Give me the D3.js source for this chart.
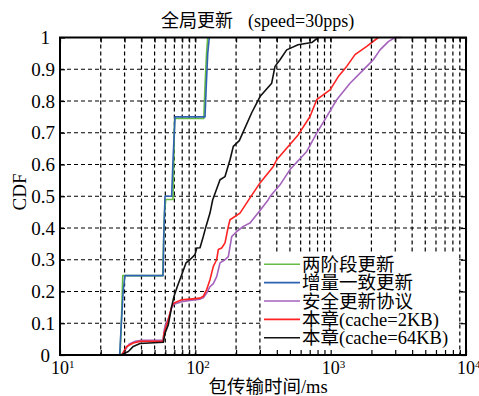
<!DOCTYPE html>
<html><head><meta charset="utf-8">
<script src="https://cdn.jsdelivr.net/npm/d3@7"></script>
<style>
body{margin:0;background:#fff}
svg{display:block}
text{font-family:"Liberation Serif","Times New Roman","Noto Sans CJK SC",serif;fill:#000}
</style></head><body>
<svg id="c" width="479" height="396"></svg>
<script>
// ---- data ----
const seriesNames = ["两阶段更新","增量一致更新","安全更新协议","本章(cache=2KB)","本章(cache=64KB)"];
const seriesColors = ["#66bb44","#2f62b0","#a462bd","#ff2222","#111111"];

const twoPhaseMs  = [27.8, 28.5, 29.1, 57.4, 58.2, 59.2, 60.5, 68.4, 69.3, 70.3, 115.5, 118, 121, 123.5];
const twoPhaseCdf = [0, 0.12, 0.25, 0.25, 0.35, 0.45, 0.49, 0.49, 0.62, 0.745, 0.745, 0.85, 0.95, 1];

const incrMs  = [27.6, 28.4, 29.3, 30.2, 57.7, 58.5, 59.7, 66.8, 68.5, 70.8, 117.9, 120.5, 123.5, 126.8];
const incrCdf = [0, 0.1, 0.2, 0.25, 0.25, 0.38, 0.5, 0.5, 0.62, 0.75, 0.75, 0.85, 0.95, 1];

const safeMs  = [28.6, 32.5, 36, 40, 57.7, 59, 61, 64, 67, 69.6, 79.3, 91.3, 108.3, 114.5, 121.3, 128.3, 135.8, 143.8, 152.2, 165.7, 175.3, 185.7, 202.2, 226.2, 253.5, 300.6, 346.1, 356.3, 422.4, 500.6, 665.3, 788.7, 934.9, 1108, 1390, 1743, 2066, 2315, 2667, 2988, 3349];
const safeCdf = [0, 0.035, 0.043, 0.046, 0.046, 0.08, 0.1, 0.12, 0.15, 0.16, 0.168, 0.172, 0.176, 0.18, 0.195, 0.215, 0.225, 0.247, 0.29, 0.30, 0.31, 0.373, 0.389, 0.405, 0.416, 0.455, 0.489, 0.499, 0.536, 0.584, 0.641, 0.699, 0.751, 0.804, 0.856, 0.898, 0.93, 0.961, 0.987, 1, 1];

const c2Ms  = [28.6, 31.1, 34.8, 39.0, 57.7, 58.7, 63.1, 66.9, 69.6, 79.3, 91.3, 108.3, 114.5, 121.3, 128.3, 135.8, 143.8, 147.8, 156.6, 165.7, 175.3, 180.4, 213.8, 253.5, 300.6, 377, 399.4, 576.6, 703.6, 788.7, 988.8, 1139, 1314, 1513, 1847, 2249];
const c2Cdf = [0, 0.027, 0.038, 0.043, 0.043, 0.069, 0.111, 0.153, 0.164, 0.174, 0.176, 0.179, 0.185, 0.206, 0.237, 0.279, 0.30, 0.332, 0.337, 0.353, 0.405, 0.426, 0.447, 0.495, 0.542, 0.594, 0.615, 0.694, 0.751, 0.804, 0.835, 0.877, 0.909, 0.946, 0.972, 1];

const c64Ms  = [28.2, 32.0, 34.8, 39.0, 58.0, 59.7, 63.1, 66.9, 69.6, 73.6, 79.3, 85.3, 91.3, 99.4, 102.4, 108.3, 114.5, 119.9, 128.3, 134.4, 152.2, 165.7, 180.4, 190.8, 211.3, 261, 300.6, 366.7, 387.9, 422.4, 473.2, 573.7, 724.4, 810.6];
const c64Cdf = [0, 0.011, 0.027, 0.036, 0.04, 0.069, 0.095, 0.153, 0.185, 0.216, 0.253, 0.29, 0.30, 0.316, 0.337, 0.338, 0.373, 0.405, 0.447, 0.489, 0.552, 0.562, 0.615, 0.657, 0.675, 0.763, 0.814, 0.856, 0.909, 0.93, 0.961, 0.977, 0.984, 1];

const xMajorTicks = [10, 100, 1000, 10000];
const xTickExp = ["1", "2", "3", "4"];
const yTicks = [0, 0.1, 0.2, 0.3, 0.4, 0.5, 0.6, 0.7, 0.8, 0.9, 1];
const yTickLabels = ["0", "0.1", "0.2", "0.3", "0.4", "0.5", "0.6", "0.7", "0.8", "0.9", "1"];
const titleCjk = "全局更新";
const titleLatin = "(speed=30pps)";
const xLabel = "包传输时间/ms";
const yLabel = "CDF";

// ---- layout ----
const L = 60, R = 466, T = 37.5, B = 355;
const svg = d3.select("#c");
const x = d3.scaleLog().domain([10, 10000]).range([L, R]);
const y = d3.scaleLinear().domain([0, 1]).range([B, T]);

const series = [
  {ms: twoPhaseMs, cdf: twoPhaseCdf},
  {ms: incrMs, cdf: incrCdf},
  {ms: safeMs, cdf: safeCdf},
  {ms: c2Ms, cdf: c2Cdf},
  {ms: c64Ms, cdf: c64Cdf}
].map((s, i) => ({name: seriesNames[i], color: seriesColors[i], pts: s.ms.map((m, j) => [m, s.cdf[j]])}));

// minor + major x values
const xAllTicks = [];
[10, 100, 1000].forEach(d => { for (let k = 1; k <= 9; k++) xAllTicks.push(d * k); });
xAllTicks.push(10000);
const xGrid = xAllTicks.filter(v => v > 10 && v < 10000);

// grid
const g = svg.append("g");
g.selectAll("line.vg").data(xGrid).join("line")
  .attr("x1", d => x(d)).attr("x2", d => x(d)).attr("y1", T).attr("y2", B)
  .attr("stroke", "#000").attr("stroke-width", 1.2).attr("stroke-dasharray", "4,3");
g.selectAll("line.hg").data(yTicks.filter(v => v > 0 && v < 1)).join("line")
  .attr("x1", L).attr("x2", R).attr("y1", d => y(d)).attr("y2", d => y(d))
  .attr("stroke", "#000").attr("stroke-width", 1.2).attr("stroke-dasharray", "4,3");

// series lines
const line = d3.line().x(d => x(d[0])).y(d => y(d[1]));
svg.append("g").selectAll("path").data(series).join("path")
  .attr("d", d => line(d.pts)).attr("fill", "none")
  .attr("stroke", d => d.color).attr("stroke-width", 1.6).attr("stroke-linejoin", "round");

// legend
const lg = svg.append("g");
lg.append("rect").attr("x", 261).attr("y", 252).attr("width", 197).attr("height", B - 252).attr("fill", "#fff");
const rowY = i => 264.3 + i * 18.35;
series.forEach((s, i) => {
  lg.append("line").attr("x1", 264).attr("x2", 300).attr("y1", rowY(i)).attr("y2", rowY(i))
    .attr("stroke", s.color).attr("stroke-width", 1.6);
  lg.append("text").attr("x", 302).attr("y", rowY(i)).attr("dy", "0.36em")
    .attr("font-size", 18.5).text(s.name);
});

// ticks (inward) via d3 axes
const tickLen = 5;
svg.append("g").attr("transform", `translate(0,${B})`)
  .call(d3.axisBottom(x).tickValues(xAllTicks).tickSize(-tickLen).tickFormat(""))
  .call(a => a.select(".domain").remove());
svg.append("g").attr("transform", `translate(0,${T})`)
  .call(d3.axisTop(x).tickValues(xAllTicks).tickSize(-tickLen).tickFormat(""))
  .call(a => a.select(".domain").remove());
svg.append("g").attr("transform", `translate(${L},0)`)
  .call(d3.axisLeft(y).tickValues(yTicks).tickSize(-tickLen).tickFormat(""))
  .call(a => a.select(".domain").remove());
svg.append("g").attr("transform", `translate(${R},0)`)
  .call(d3.axisRight(y).tickValues(yTicks).tickSize(-tickLen).tickFormat(""))
  .call(a => a.select(".domain").remove());
svg.selectAll(".tick line").attr("stroke", "#000").attr("stroke-width", 1.2);

// frame
svg.append("rect").attr("x", L).attr("y", T).attr("width", R - L).attr("height", B - T)
  .attr("fill", "none").attr("stroke", "#000").attr("stroke-width", 2);

// y tick labels
svg.append("g").selectAll("text").data(yTicks).join("text")
  .attr("x", (d, i) => (yTickLabels[i].length === 1 ? 50 : 55))
  .attr("y", d => y(d)).attr("dy", "0.35em")
  .attr("text-anchor", "end").attr("font-size", 19)
  .text((d, i) => yTickLabels[i]);

// x tick labels with superscripts
const xl = svg.append("g").selectAll("text").data(xMajorTicks).join("text")
  .attr("x", d => x(d) - 9).attr("y", 374).attr("font-size", 18);
xl.append("tspan").text("10");
xl.append("tspan").attr("font-size", 11).attr("dy", -6).text((d, i) => xTickExp[i]);

// title
const t = svg.append("text").attr("x", 161).attr("y", 27).attr("font-size", 18);
t.append("tspan").text(titleCjk);
t.append("tspan").attr("x", 248).text(titleLatin);

// axis labels
svg.append("text").attr("x", 268).attr("y", 393).attr("text-anchor", "middle")
  .attr("font-size", 18.5).text(xLabel);
svg.append("text").attr("transform", "translate(26,192) rotate(-90)")
  .attr("text-anchor", "middle").attr("font-size", 19).text(yLabel);
</script>
</body></html>
